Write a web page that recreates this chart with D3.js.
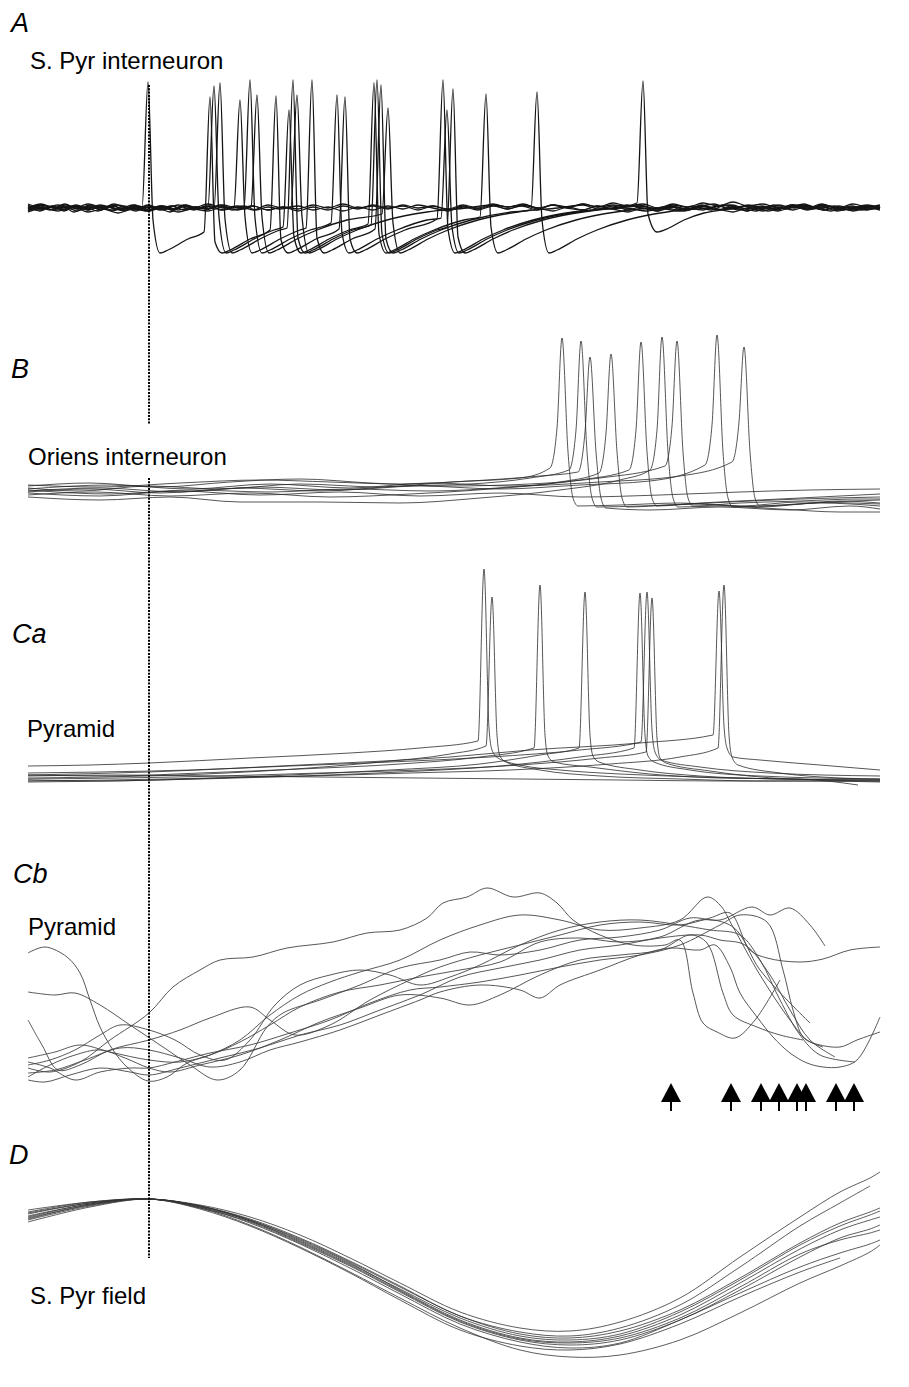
<!DOCTYPE html>
<html><head><meta charset="utf-8">
<script src="https://cdn.jsdelivr.net/npm/d3@7"></script>
<style>body{margin:0;background:#fff} svg{display:block}</style>
</head><body>
<svg id="c" width="909" height="1387"></svg>
<script>
// ---------- DATA (time in ms relative to field-potential peak; voltage in arbitrary units relative to each panel's baseline) ----------
const panelLetters = ["A", "B", "Ca", "Cb", "D"];
const cellLabels = ["S. Pyr interneuron", "Oriens interneuron", "Pyramid", "Pyramid", "S. Pyr field"];
const fieldPeakTime = 0;
const arrowTimes = [522, 582, 612, 630, 648, 657, 687, 705];

const aTraces = [
 [[-121,-1],[-108,3],[-96,0],[-84,4],[-72,-1],[-60,2],[-48,-2],[-36,2],[-24,-1],[-14,3],[-7,0],[-1,126],[4,-12],[11,-45],[19,-42],[39,-31],[55,-24],[61,111],[66,-34],[73,-45],[81,-42],[101,-31],[121,-22],[127,112],[132,-32],[139,-45],[147,-42],[167,-31],[190,-21],[196,111],[201,-31],[208,-45],[216,-42],[236,-31],[256,-22],[288,-11],[294,128],[299,-21],[306,-45],[314,-42],[334,-31],[354,-22],[384,-12],[424,-4],[464,0],[490,3],[505,-1],[520,2],[535,-3],[550,1],[565,4],[580,-1],[595,2],[610,-2],[625,3],[640,0],[655,4],[670,-1],[685,2],[700,-2],[715,2],[731,0]],
 [[-121,2],[-109,-2],[-97,1],[-85,-3],[-73,2],[-61,-1],[-49,3],[-37,0],[-25,-3],[-13,1],[-1,-2],[11,2],[23,-1],[35,3],[47,0],[59,1],[65,122],[70,-9],[77,-45],[85,-42],[105,-31],[125,-22],[134,-19],[140,98],[145,-29],[152,-45],[160,-42],[180,-31],[200,-22],[219,-16],[225,125],[230,-26],[237,-45],[245,-42],[265,-31],[285,-22],[315,-12],[331,-9],[337,114],[342,-19],[349,-45],[357,-42],[377,-31],[397,-22],[427,-12],[467,-4],[507,0],[532,-3],[547,1],[562,-2],[577,3],[592,0],[607,-3],[622,2],[637,-1],[652,3],[667,0],[682,-3],[697,1],[712,-2],[731,1]],
 [[-121,-3],[-110,1],[-99,-2],[-87,2],[-75,-4],[-63,0],[-51,-3],[-39,1],[-27,-2],[-15,2],[-3,-3],[9,0],[21,-4],[33,1],[45,-2],[57,2],[65,-1],[71,125],[76,-11],[83,-45],[91,-42],[111,-31],[131,-22],[138,-20],[144,128],[149,-30],[156,-45],[164,-42],[184,-31],[204,-22],[222,-17],[228,128],[233,-26],[240,-45],[248,-42],[268,-31],[288,-22],[298,-19],[304,119],[309,-29],[316,-45],[324,-42],[344,-31],[364,-22],[394,-12],[434,-4],[474,0],[499,-3],[514,1],[529,-2],[544,2],[559,-1],[574,3],[589,-2],[604,1],[619,-3],[634,0],[649,3],[664,-1],[679,2],[694,-2],[709,1],[731,-1]],
 [[-121,0],[-108,4],[-95,0],[-83,3],[-71,-1],[-59,3],[-47,0],[-35,4],[-23,0],[-11,2],[1,-2],[13,2],[25,-1],[37,3],[49,0],[61,2],[73,-2],[85,1],[91,108],[96,-9],[103,-45],[111,-42],[131,-31],[151,-22],[157,-20],[163,128],[168,-30],[175,-45],[183,-42],[203,-31],[226,-21],[232,123],[237,-31],[244,-45],[252,-42],[272,-31],[292,-22],[322,-12],[362,-4],[382,-2],[388,116],[393,-12],[400,-45],[408,-42],[428,-31],[448,-22],[478,-12],[518,-4],[558,0],[583,3],[598,-1],[613,2],[628,-2],[643,3],[658,0],[673,4],[688,-1],[703,2],[718,-2],[731,1]],
 [[-121,1],[-109,-3],[-97,1],[-85,-2],[-73,2],[-61,-2],[-49,1],[-37,-3],[-25,0],[-13,-3],[-1,1],[11,-2],[23,2],[35,-2],[47,1],[59,-1],[71,2],[83,-2],[95,0],[101,128],[106,-10],[113,-45],[121,-42],[141,-31],[161,-22],[182,-15],[188,113],[193,-25],[200,-45],[208,-42],[228,-31],[248,-22],[278,-12],[292,-10],[298,98],[303,-19],[310,-45],[318,-42],[338,-31],[358,-22],[388,-12],[428,-4],[468,0],[493,2],[508,-2],[523,2],[538,-1],[553,3],[568,-2],[583,1],[598,-3],[613,1],[628,-1],[643,2],[658,-2],[673,1],[688,-3],[703,0],[718,3],[731,0]],
 [[-121,-2],[-108,2],[-96,-2],[-84,1],[-72,-3],[-60,1],[-48,-1],[-36,2],[-24,-2],[-12,1],[0,-3],[12,1],[24,-2],[36,2],[48,-1],[60,2],[72,-2],[84,1],[96,-1],[102,1],[108,113],[113,-9],[120,-45],[128,-42],[148,-31],[168,-22],[198,-12],[233,-6],[239,100],[244,-15],[251,-45],[259,-42],[279,-31],[299,-22],[329,-12],[369,-4],[409,0],[434,3],[449,-1],[464,2],[479,-2],[494,2],[509,-1],[524,3],[539,0],[554,-2],[569,2],[584,-1],[599,3],[614,0],[629,-3],[644,1],[659,-1],[674,3],[689,0],[704,-2],[719,2],[731,0]],
 [[-121,3],[-109,-1],[-97,2],[-85,-1],[-73,3],[-61,0],[-49,2],[-37,-2],[-25,2],[-13,-1],[-1,3],[11,0],[23,2],[35,-2],[47,1],[59,-1],[71,3],[83,0],[95,2],[107,-2],[119,1],[131,-1],[142,1],[148,113],[153,-9],[160,-45],[168,-42],[188,-31],[208,-22],[238,-12],[278,-4],[318,0],[343,3],[358,-1],[373,2],[388,-2],[403,3],[418,0],[433,-2],[448,2],[463,-1],[478,3],[493,0],[508,-3],[523,1],[538,-1],[553,2],[568,-2],[583,1],[598,-3],[613,1],[628,-1],[643,3],[658,0],[673,2],[688,-2],[703,1],[718,-1],[731,2]],
 [[-121,-1],[-106,3],[-91,0],[-76,2],[-61,-2],[-46,2],[-31,-1],[-16,3],[-1,0],[14,2],[29,-2],[44,1],[59,-1],[74,3],[89,0],[104,2],[119,-2],[134,1],[149,-1],[164,3],[179,0],[194,4],[209,0],[224,2],[239,-1],[254,3],[269,0],[284,2],[299,-2],[314,2],[329,-1],[344,3],[359,1],[374,4],[389,0],[404,3],[419,1],[434,4],[449,1],[464,3],[476,2],[488,5],[494,127],[499,-6],[508,-24],[520,-20],[535,-12],[555,-5],[580,-1],[600,2],[615,-1],[630,3],[645,0],[660,2],[675,-2],[690,2],[705,-1],[720,2],[731,0]],
 [[-121,-4],[-106,0],[-91,-3],[-76,1],[-61,-4],[-46,-1],[-31,-5],[-16,-1],[-1,-3],[14,0],[29,-4],[44,-1],[59,-3],[74,1],[89,-2],[104,2],[119,-2],[134,1],[149,-3],[164,1],[179,-2],[194,2],[209,-1],[224,3],[239,0],[254,2],[269,-2],[284,2],[299,-1],[314,3],[329,0],[344,4],[359,1],[374,3],[389,-1],[404,3],[419,0],[434,4],[449,1],[464,5],[479,2],[494,4],[509,0],[524,4],[539,1],[554,5],[569,2],[584,6],[599,2],[614,4],[629,0],[644,3],[659,-1],[674,3],[689,0],[704,4],[719,1],[731,3]],
 [[-121,4],[-106,0],[-91,3],[-76,-1],[-61,4],[-46,1],[-31,3],[-16,-1],[-1,2],[14,-2],[29,3],[44,0],[59,4],[74,0],[89,2],[104,-2],[119,3],[134,0],[149,2],[164,-2],[179,1],[194,-3],[209,1],[224,-2],[239,2],[254,-1],[269,3],[284,0],[299,-3],[314,1],[329,-2],[344,2],[359,-1],[374,3],[389,0],[404,-3],[419,1],[434,-2],[449,2],[464,-1],[479,-4],[494,0],[509,-3],[524,1],[539,-2],[554,2],[569,-1],[584,-4],[599,0],[614,-3],[629,1],[644,-2],[659,2],[674,-2],[689,1],[704,-3],[719,0],[731,-2]]
];

const bTraces = [
 [[-121,2],[-69,-1],[0,4],[71,1],[151,6],[231,3],[301,8],[371,12],[401,22],[408,62],[413,152],[419,38],[424,-8],[429,-16],[471,-15],[531,-13],[591,-16],[651,-12],[731,-14]],
 [[-121,-2],[-59,1],[11,-3],[91,2],[171,-1],[251,4],[321,6],[381,12],[420,20],[427,60],[432,149],[438,38],[443,-8],[448,-17],[491,-16],[551,-14],[611,-17],[671,-13],[731,-16]],
 [[-121,5],[-49,3],[31,7],[111,10],[181,8],[251,6],[321,9],[391,14],[429,18],[436,58],[441,133],[447,38],[452,-8],[457,-18],[501,-20],[571,-17],[641,-20],[701,-16],[731,-19]],
 [[-121,-5],[-54,-2],[21,-6],[101,-3],[181,-7],[261,-4],[341,1],[411,8],[450,17],[457,57],[462,136],[468,38],[473,-8],[478,-17],[521,-15],[581,-12],[651,-9],[731,-7]],
 [[-121,0],[-39,-4],[41,0],[121,-2],[201,1],[281,-1],[361,3],[431,10],[480,20],[487,60],[492,148],[498,38],[503,-8],[508,-16],[551,-13],[611,-10],[671,-7],[731,-4]],
 [[-121,-7],[-49,-10],[21,-7],[91,-12],[171,-12],[251,-13],[331,-8],[411,0],[471,10],[501,20],[508,60],[513,153],[519,38],[524,-8],[529,-17],[571,-16],[631,-19],[691,-22],[731,-22]],
 [[-121,4],[-59,7],[11,3],[81,8],[151,11],[221,7],[301,4],[381,6],[451,12],[516,24],[523,64],[528,149],[534,38],[539,-8],[544,-16],[591,-13],[651,-11],[711,-9],[731,-9]],
 [[-121,-1],[-49,2],[31,-2],[111,3],[191,0],[271,4],[351,1],[431,5],[501,9],[556,25],[563,65],[568,155],[574,38],[579,-8],[584,-17],[631,-15],[681,-12],[731,-10]],
 [[-121,1],[-39,5],[41,1],[121,6],[201,2],[281,7],[361,4],[451,8],[531,14],[583,28],[590,68],[595,143],[601,38],[606,-8],[611,-16],[651,-14],[691,-11],[731,-13]],
 [[-121,-3],[-49,-6],[31,-1],[111,-5],[191,-2],[271,-6],[351,-3],[431,-7],[511,-5],[591,-2],[661,0],[731,1]]
];

const caTraces = [
 [[-121,9],[-59,10],[0,12],[101,17],[201,22],[271,27],[329,34],[335,206],[340,47],[343,25],[349,17],[371,10],[411,5],[471,1],[551,-2],[631,-4],[731,-5]],
 [[-121,-3],[-49,-2],[31,0],[131,5],[231,13],[301,21],[337,29],[343,178],[348,40],[351,19],[357,13],[391,5],[451,-1],[531,-4],[611,-6],[731,-6]],
 [[-121,0],[-39,-1],[51,2],[151,6],[251,11],[331,18],[385,27],[391,190],[396,40],[399,19],[405,13],[441,8],[501,1],[571,-3],[651,-4],[709,-10]],
 [[-121,-5],[-49,-6],[41,-4],[141,0],[241,5],[331,11],[391,20],[430,27],[436,183],[441,40],[444,19],[450,13],[491,5],[551,-1],[631,-4],[731,-5]],
 [[-121,-7],[-39,-6],[51,-4],[151,-1],[251,3],[351,9],[431,18],[485,27],[491,182],[496,40],[499,19],[505,13],[541,5],[611,-1],[731,-4]],
 [[-121,2],[-49,3],[41,5],[141,9],[241,13],[341,18],[431,25],[492,33],[498,183],[503,45],[506,23],[512,15],[551,8],[621,2],[731,-1]],
 [[-121,-4],[-29,-3],[71,-1],[171,2],[271,5],[371,10],[451,17],[497,23],[503,177],[508,37],[511,17],[517,12],[561,4],[641,-4],[731,-6]],
 [[-121,0],[0,3],[151,10],[301,18],[381,25],[491,32],[564,40],[570,184],[575,49],[578,27],[584,18],[611,15],[671,10],[731,5]],
 [[-121,-6],[-39,-5],[61,-3],[161,-1],[261,2],[361,5],[461,11],[531,18],[569,27],[575,190],[580,40],[583,18],[589,10],[631,2],[691,-3],[731,-4]],
 [[-121,-1],[-29,0],[71,-1],[171,-2],[271,-3],[371,-4],[471,-5],[571,-6],[671,-6],[731,-7]]
];

const cbTraces = [
 [[-121,12],[-99,8],[-69,18],[-39,40],[0,67],[24,93],[51,110],[71,120],[104,123],[138,132],[184,138],[218,147],[251,150],[278,162],[294,177],[318,183],[338,192],[364,183],[391,187],[408,177],[424,160],[451,145],[484,135],[516,135],[531,140],[544,87],[554,57],[568,48],[586,42],[606,60],[631,100]],
 [[-121,127],[-104,133],[-82,123],[-69,107],[-59,80],[-49,53],[-36,30],[-22,13],[-1,-1],[18,3],[38,17],[61,25],[91,40],[121,65],[151,85],[181,98],[211,108],[251,120],[291,140],[331,155],[371,165],[411,160],[451,150],[491,152],[531,160],[558,183],[571,175],[584,153],[611,105],[641,60],[658,40],[674,33]],
 [[-121,88],[-94,85],[-74,87],[-49,75],[-19,55],[11,35],[41,15],[68,0],[91,10],[118,53],[134,67],[171,80],[211,95],[251,112],[291,120],[321,128],[351,125],[391,130],[431,140],[471,143],[511,150],[541,162],[571,160],[603,173],[621,165],[641,172],[661,155],[676,134]],
 [[-121,60],[-107,35],[-91,10],[-69,15],[-39,30],[0,40],[31,50],[61,62],[101,73],[121,60],[146,45],[181,55],[221,80],[261,100],[291,113],[331,125],[371,135],[411,145],[451,155],[491,158],[531,155],[561,162],[581,167],[601,130],[618,122],[651,118],[674,121],[701,130],[731,133]],
 [[-121,22],[-94,28],[-69,35],[-39,28],[0,20],[31,18],[61,25],[91,38],[121,55],[151,73],[191,88],[231,95],[271,103],[311,110],[351,118],[391,138],[431,142],[471,138],[511,143],[551,160],[584,153],[611,110],[641,77],[661,57]],
 [[-121,18],[-99,12],[-74,0],[-49,8],[-19,12],[0,12],[26,18],[61,27],[101,35],[141,47],[181,60],[221,77],[261,90],[291,93],[331,98],[371,105],[411,113],[451,120],[491,125],[531,135],[571,155],[591,165],[618,158],[634,110],[644,70],[654,43],[664,37],[691,33],[708,40],[731,48]],
 [[-121,7],[-94,10],[-64,20],[-29,32],[0,30],[31,22],[61,13],[91,18],[121,30],[151,38],[191,50],[231,65],[271,80],[291,88],[331,95],[371,90],[391,82],[411,95],[451,110],[491,125],[521,132],[551,130],[566,135],[581,113],[591,87],[608,63],[624,43],[641,27],[658,17],[674,13],[691,13],[708,20],[731,63]],
 [[-121,3],[-99,15],[-74,25],[-49,30],[-24,22],[0,12],[21,8],[51,15],[91,25],[131,40],[171,58],[211,72],[251,85],[291,82],[321,75],[351,85],[391,105],[431,120],[471,125],[511,130],[541,145],[558,137],[574,87],[584,65],[608,53],[631,45],[654,40]],
 [[-121,0],[-104,-2],[-79,5],[-49,12],[-19,8],[0,5],[31,12],[71,22],[111,32],[151,45],[191,55],[231,70],[271,85],[311,103],[351,112],[391,120],[431,130],[471,135],[511,142],[551,145],[571,140],[596,135],[621,105],[641,70],[661,40],[686,23]],
 [[-121,15],[-99,20],[-74,30],[-49,45],[-29,55],[0,50],[26,40],[51,25],[76,20],[101,40],[126,75],[151,95],[181,105],[211,110],[241,105],[271,95],[301,103],[331,115],[371,135],[411,150],[451,158],[491,160],[531,155],[561,150],[591,145],[611,120],[631,80],[651,45],[671,25],[706,18]]
];

const dTime = [-121, -59, 0, 51, 101, 151, 201, 251, 311, 371, 421, 471, 531, 591, 651, 691, 721, 731];
const dTraces = [
 [-10,-2,1,-5,-17,-35,-58,-83,-112,-128,-131,-122,-98,-57,-17,8,22,28],
 [-13,-3,1,-6,-19,-38,-61,-86,-116,-132,-136,-128,-105,-67,-26,-3,14,null],
 [-16,-4,1,-7,-21,-41,-64,-89,-118,-136,-140,-134,-112,-80,-45,-26,-15,-11],
 [-18,-5,1,-6,-20,-40,-63,-90,-120,-138,-142,-136,-115,-83,-49,-30,-20,-17],
 [-20,-6,1,-8,-22,-43,-66,-92,-122,-140,-145,-140,-120,-90,-57,-38,-29,-25],
 [-22,-7,1,-7,-23,-44,-68,-94,-124,-142,-148,-143,-120,-93,-67,-53,-44,-40],
 [-14,-3,1,-8,-25,-47,-72,-98,-128,-150,-157,-155,-140,-113,-83,-66,-52,-45],
 [-19,-5,1,-9,-26,-48,-73,-100,-130,-146,-150,-144,-124,-97,-72,-58,null,null],
 [-17,-4,1,-6,-21,-42,-65,-91,-121,-139,-143,-138,-118,-87,-54,-40,-33,-30],
 [-12,-2,1,-6,-20,-39,-62,-87,-116,-134,-138,-131,-110,-78,-43,-23,-12,-8]
];

// ---------- DRAWING ----------
const svg = d3.select('#c');
const FONT = "'Liberation Sans', Arial, Helvetica, sans-serif";

const x = d3.scaleLinear().domain([-121, 731]).range([28, 880]);
const yA = d3.scaleLinear().domain([-50, 130]).range([258, 78]);
const yB = d3.scaleLinear().domain([-25, 160]).range([515, 330]);
const yCa = d3.scaleLinear().domain([-12, 210]).range([787, 565]);
const yCb = d3.scaleLinear().domain([-5, 200]).range([1085, 880]);
const yD = d3.scaleLinear().domain([-160, 10]).range([1360, 1190]);

function drawTraces(traces, y, curve, color, width) {
  const line = d3.line()
    .defined(d => d[1] != null)
    .x(d => x(d[0])).y(d => y(d[1]))
    .curve(curve);
  svg.append('g').selectAll('path').data(traces).join('path')
    .attr('d', line)
    .attr('fill', 'none')
    .attr('stroke', color)
    .attr('stroke-width', width)
    .attr('stroke-linejoin', 'round');
}

drawTraces(aTraces, yA, d3.curveMonotoneX, '#151515', 1.3);
drawTraces(bTraces, yB, d3.curveMonotoneX, '#2b2b2b', 0.8);
drawTraces(caTraces, yCa, d3.curveMonotoneX, '#2b2b2b', 0.8);
drawTraces(cbTraces, yCb, d3.curveCatmullRom.alpha(0.5), '#444', 0.9);
drawTraces(dTraces.map(vals => vals.map((v, i) => [dTime[i], v])), yD, d3.curveCatmullRom.alpha(0.5), '#333', 0.8);

// dotted line at field peak
const dotted = svg.append('g').attr('stroke', '#000').attr('stroke-width', 2).attr('stroke-dasharray', '2,1.3');
[[85, 425], [478, 1258]].forEach(seg => {
  dotted.append('line').attr('x1', x(fieldPeakTime)).attr('x2', x(fieldPeakTime))
    .attr('y1', seg[0]).attr('y2', seg[1]);
});

// arrows (Cb)
const arrows = svg.append('g').selectAll('g').data(arrowTimes).join('g')
  .attr('transform', d => `translate(${x(d)},0)`);
arrows.append('path').attr('d', 'M0,1083 L10,1102 L-10,1102 Z').attr('fill', '#000');
arrows.append('rect').attr('x', -1).attr('y', 1100).attr('width', 2).attr('height', 11).attr('fill', '#000');

// panel letters
const letterPos = [[11, 32], [11, 378], [12, 643], [13, 883], [9, 1164]];
svg.append('g').selectAll('text').data(panelLetters).join('text')
  .attr('x', (d, i) => letterPos[i][0]).attr('y', (d, i) => letterPos[i][1])
  .attr('font-family', FONT).attr('font-style', 'italic').attr('font-size', 27)
  .attr('fill', '#000').text(d => d);

// cell labels
const labelPos = [[30, 69], [28, 465], [27, 737], [28, 935], [30, 1304]];
svg.append('g').selectAll('text').data(cellLabels).join('text')
  .attr('x', (d, i) => labelPos[i][0]).attr('y', (d, i) => labelPos[i][1])
  .attr('font-family', FONT).attr('font-size', 24)
  .attr('fill', '#000').text(d => d);
</script>
</body></html>
